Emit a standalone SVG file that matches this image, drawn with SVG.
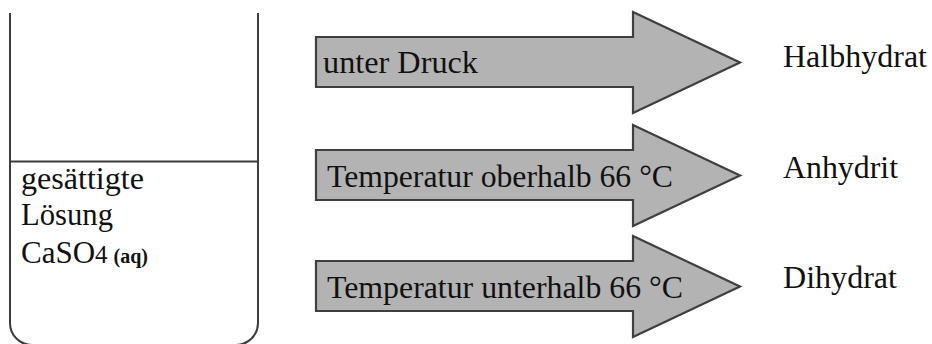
<svg xmlns="http://www.w3.org/2000/svg" width="932" height="344" viewBox="0 0 932 344">
  <defs>
    <!-- block arrow shared by the three reaction paths (origin at body top-left) -->
    <path id="blockArrow" d="M0,0 H317 V-25 L424,25.5 L317,76 V50 H0 Z" fill="#b3b3b3" stroke="#3f3f3f" stroke-width="2.2"/>
  </defs>
  <rect width="932" height="344" fill="#ffffff"/>

  <!-- beaker with saturated solution -->
  <g id="beaker">
    <path d="M10,13 V323 A22,22 0 0 0 32,345 H236 A22,22 0 0 0 258,323 V13" fill="none" stroke="#3c3c3c" stroke-width="2"/>
    <line x1="10" y1="161.5" x2="258" y2="161.5" stroke="#3c3c3c" stroke-width="2"/>
    <text x="21" y="189" font-family="Liberation Serif" font-size="31" fill="#111111" textLength="123" lengthAdjust="spacingAndGlyphs">ges&#228;ttigte</text>
    <text x="21" y="225" font-family="Liberation Serif" font-size="31" fill="#111111" textLength="92" lengthAdjust="spacingAndGlyphs">L&#246;sung</text>
    <text x="21" y="263" font-family="Liberation Serif" font-size="31" fill="#111111">CaSO<tspan font-size="25">4</tspan><tspan font-size="20" dx="6" font-weight="bold">(aq)</tspan></text>
  </g>

  <!-- reaction paths -->
  <g id="connectors">
    <g id="arrow-druck">
      <use href="#blockArrow" x="316" y="37"/>
      <text x="323" y="73" font-family="Liberation Serif" font-size="31" fill="#111111" textLength="155" lengthAdjust="spacingAndGlyphs">unter Druck</text>
    </g>
    <g id="arrow-oberhalb">
      <use href="#blockArrow" x="316" y="150"/>
      <text x="327" y="187" font-family="Liberation Serif" font-size="31" fill="#111111" textLength="346" lengthAdjust="spacingAndGlyphs">Temperatur oberhalb 66 &#176;C</text>
    </g>
    <g id="arrow-unterhalb">
      <use href="#blockArrow" x="316" y="261"/>
      <text x="327" y="298" font-family="Liberation Serif" font-size="31" fill="#111111" textLength="356" lengthAdjust="spacingAndGlyphs">Temperatur unterhalb 66 &#176;C</text>
    </g>
  </g>

  <!-- products -->
  <g id="halbhydrat">
    <text x="783" y="67" font-family="Liberation Serif" font-size="31" fill="#111111" textLength="144" lengthAdjust="spacingAndGlyphs">Halbhydrat</text>
  </g>
  <g id="anhydrit">
    <text x="783" y="178" font-family="Liberation Serif" font-size="31" fill="#111111" textLength="115" lengthAdjust="spacingAndGlyphs">Anhydrit</text>
  </g>
  <g id="dihydrat">
    <text x="783" y="288" font-family="Liberation Serif" font-size="31" fill="#111111" textLength="114" lengthAdjust="spacingAndGlyphs">Dihydrat</text>
  </g>
</svg>
